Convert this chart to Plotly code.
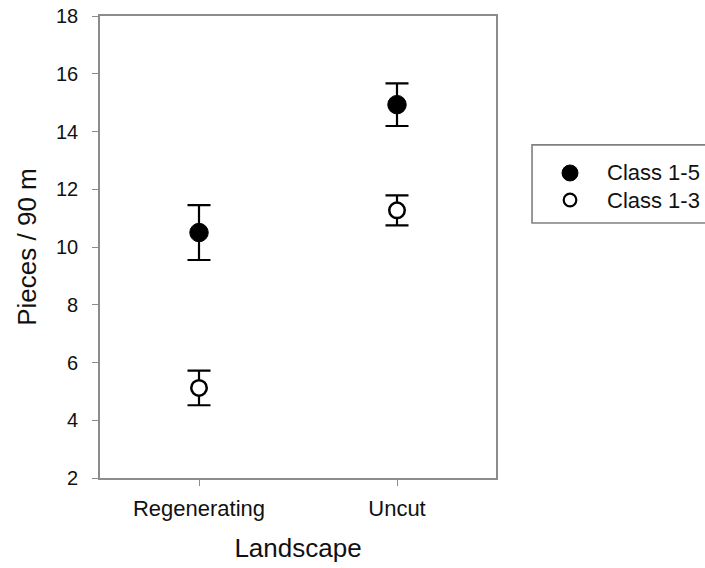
import plotly.graph_objects as go

# Mean pieces per 90 m by landscape, with standard errors
landscapes = ["Regenerating", "Uncut"]
class_15_mean = [10.5, 14.93]
class_15_err = [0.95, 0.74]
class_13_mean = [5.12, 11.27]
class_13_err = [0.6, 0.52]
y_ticks = [2, 4, 6, 8, 10, 12, 14, 16, 18]
series_names = ["Class 1-5", "Class 1-3"]

xpos = list(range(len(landscapes)))
font_family = "Liberation Sans, Arial, sans-serif"

fig = go.Figure()
fig.add_trace(go.Scatter(
    x=xpos, y=class_15_mean, mode="markers", name=series_names[0],
    marker=dict(symbol="circle", size=18.5, color="black",
                line=dict(color="black", width=1)),
    error_y=dict(type="data", array=class_15_err, color="black",
                 thickness=2.2, width=11.5),
))
fig.add_trace(go.Scatter(
    x=xpos, y=class_13_mean, mode="markers", name=series_names[1],
    marker=dict(symbol="circle", size=15.5, color="white",
                line=dict(color="black", width=2.5)),
    error_y=dict(type="data", array=class_13_err, color="black",
                 thickness=2.2, width=11.5),
))

# Legend box placed to the right of the plot, drawn by hand so it
# does not push the plot margins
legend_rows = [0.6602, 0.6017]   # paper y of each legend row
legend_sym_x = 1.1869
legend_txt_x = 1.2753
shapes = [dict(
    type="rect", xref="paper", yref="paper",
    x0=1.091, x1=1.6, y0=0.552, y1=0.721,
    line=dict(color="#808080", width=1.6), fillcolor="rgba(0,0,0,0)",
    layer="below",
)]
shapes.append(dict(
    type="circle", xref="paper", yref="paper",
    xsizemode="pixel", ysizemode="pixel",
    xanchor=legend_sym_x, yanchor=legend_rows[0],
    x0=-8, x1=8, y0=-8, y1=8,
    fillcolor="black", line=dict(color="black", width=1),
))
shapes.append(dict(
    type="circle", xref="paper", yref="paper",
    xsizemode="pixel", ysizemode="pixel",
    xanchor=legend_sym_x, yanchor=legend_rows[1],
    x0=-6.3, x1=6.3, y0=-6.3, y1=6.3,
    fillcolor="white", line=dict(color="black", width=2.2),
))
annotations = [
    dict(text=name, xref="paper", yref="paper", x=legend_txt_x, y=row,
         xanchor="left", yanchor="middle", showarrow=False,
         font=dict(size=22, family=font_family, color="#111111"))
    for name, row in zip(series_names, legend_rows)
]

axis_color = "#8c8c8c"
fig.update_layout(
    width=705, height=568,
    margin=dict(l=100, r=209, t=16, b=90, autoexpand=False),
    paper_bgcolor="white", plot_bgcolor="white",
    font=dict(family=font_family, color="#111111", size=20),
    showlegend=False,
    xaxis=dict(
        range=[-0.5, 1.5], tickmode="array", tickvals=xpos, ticktext=landscapes,
        showgrid=False, zeroline=False, automargin=False,
        showline=True, linecolor=axis_color, linewidth=1.6, mirror=True,
        ticks="outside", ticklen=6, tickwidth=1.3, tickcolor=axis_color,
        ticklabelstandoff=4,
        tickfont=dict(size=22),
        title=dict(text="Landscape", font=dict(size=26), standoff=19),
    ),
    yaxis=dict(
        range=[2, 18], tickmode="array", tickvals=y_ticks,
        showgrid=False, zeroline=False, automargin=False,
        showline=True, linecolor=axis_color, linewidth=1.6, mirror=True,
        ticks="outside", ticklen=6, tickwidth=1.3, tickcolor=axis_color,
        ticklabelstandoff=10,
        tickfont=dict(size=20),
        title=dict(text="Pieces / 90 m", font=dict(size=26), standoff=12),
    ),
    shapes=shapes,
    annotations=annotations,
)

fig.write_html("out.html")
